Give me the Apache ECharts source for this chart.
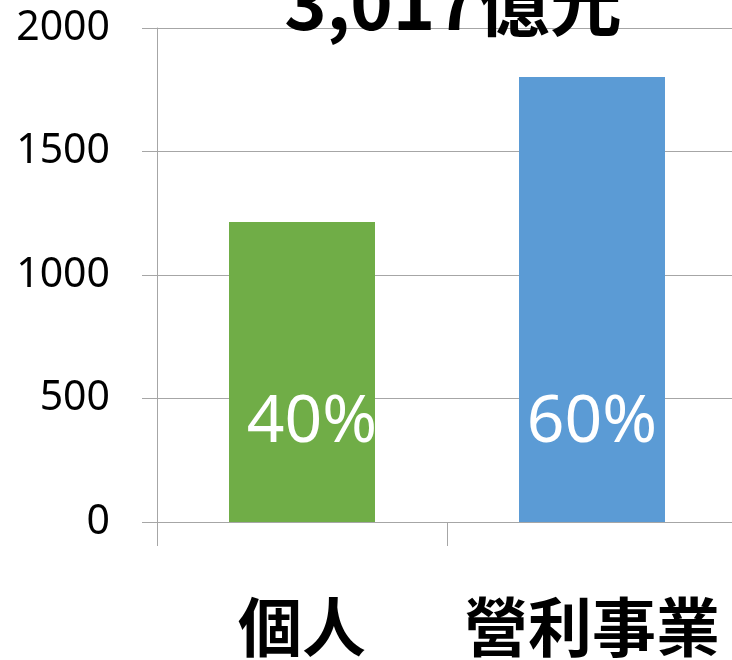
<!DOCTYPE html>
<html>
<head>
<meta charset="utf-8">
<script src="https://cdn.jsdelivr.net/npm/echarts@6/dist/echarts.min.js"></script>
<style>
  html, body { margin: 0; padding: 0; background: #fff; }
  #chart { width: 732px; height: 660px; }
</style>
</head>
<body>
<div id="chart"></div>
<script>
// data
const categories = ["個人", "營利事業"];
const values = [1215, 1802];
const shares = ["40%", "60%"];
const barColors = ["#70AD47", "#5B9BD5"];
const titleText = "3,017億元";
const yMin = 0;
const yMax = 2000;
const yStep = 500;

const gridColor = "#a6a6a6";

const chart = echarts.init(document.getElementById("chart"));

chart.setOption({
  backgroundColor: "#fff",
  animation: false,
  title: {
    text: titleText,
    left: 448,
    textAlign: "center",
    top: -38,
    textStyle: {
      fontFamily: "Noto Sans CJK TC",
      fontSize: 72,
      fontWeight: "bold",
      color: "#000",
    },
  },
  grid: {
    left: 157,
    right: -5,
    top: 28,
    bottom: 138,
    outerBoundsMode: "none",
    containLabel: false,
  },
  xAxis: {
    type: "category",
    data: categories,
    axisLine: { lineStyle: { color: gridColor, width: 1 } },
    axisTick: { show: true, length: 24, lineStyle: { color: gridColor } },
    axisLabel: {
      interval: 0,
      margin: 73,
      color: "#000",
      fontFamily: "Noto Sans CJK TC",
      fontWeight: "bold",
      fontSize: 64,
    },
  },
  yAxis: {
    type: "value",
    min: yMin,
    max: yMax,
    interval: yStep,
    axisLine: { show: true, lineStyle: { color: gridColor, width: 1 } },
    axisTick: { show: true, length: 15, lineStyle: { color: gridColor } },
    splitLine: { lineStyle: { color: gridColor, width: 1 } },
    axisLabel: {
      margin: 47,
      color: "#000",
      fontFamily: "Noto Sans",
      fontSize: 41,
      formatter: (v) => String(v),
    },
  },
  series: [
    {
      type: "bar",
      barWidth: 146,
      data: values.map((v, i) => ({
        value: v,
        itemStyle: { color: barColors[i] },
        label: { offset: [i === 0 ? 10 : 0, 0] },
      })),
      label: {
        show: true,
        position: "insideBottom",
        distance: 66,
        formatter: (p) => shares[p.dataIndex],
        color: "#fff",
        fontFamily: "Noto Sans",
        fontSize: 66,
        lineHeight: 66,
      },
    },
  ],
});
</script>
</body>
</html>
